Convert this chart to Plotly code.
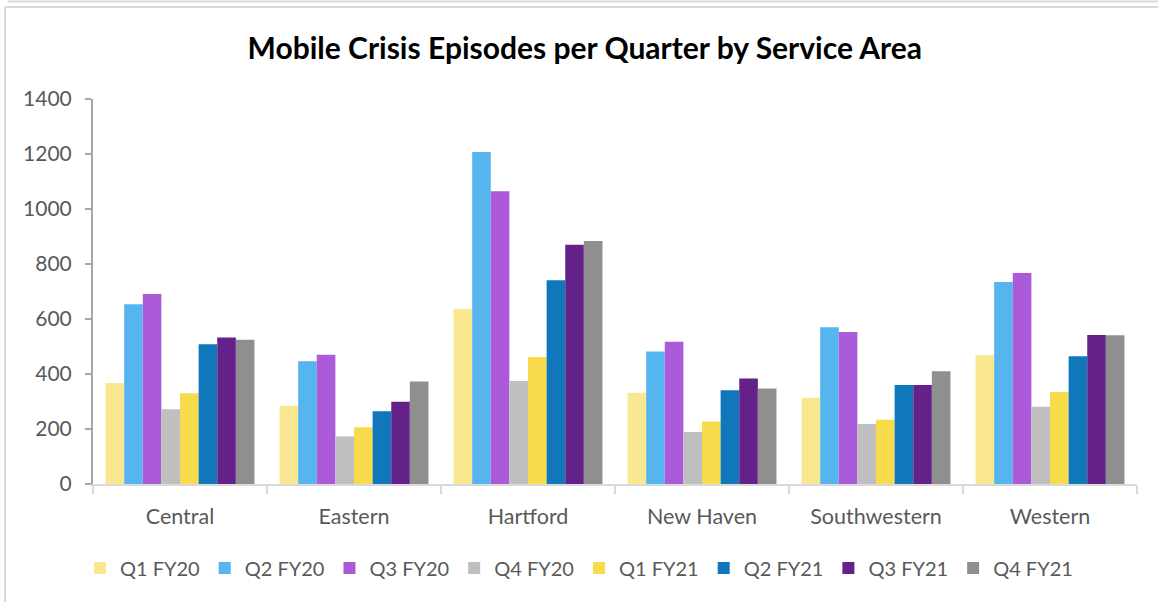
import plotly.graph_objects as go

areas = ["Central", "Eastern", "Hartford", "New Haven", "Southwestern", "Western"]
series_names = ["Q1 FY20", "Q2 FY20", "Q3 FY20", "Q4 FY20", "Q1 FY21", "Q2 FY21", "Q3 FY21", "Q4 FY21"]

q1_fy20 = [367, 285, 636, 332, 314, 469]
q2_fy20 = [654, 446, 1207, 482, 570, 735]
q3_fy20 = [691, 470, 1065, 517, 553, 767]
q4_fy20 = [272, 173, 375, 189, 218, 281]
q1_fy21 = [330, 206, 462, 227, 234, 335]
q2_fy21 = [508, 265, 741, 341, 360, 465]
q3_fy21 = [533, 299, 870, 384, 360, 542]
q4_fy21 = [525, 373, 884, 347, 410, 541]

series_values = [q1_fy20, q2_fy20, q3_fy20, q4_fy20, q1_fy21, q2_fy21, q3_fy21, q4_fy21]
colors = ["#FAE891", "#56B4EF", "#AB5BDA", "#BFBFBF", "#F7DB4A", "#1078BA", "#642189", "#8F8F8F"]

y_ticks = [0, 200, 400, 600, 800, 1000, 1200, 1400]

FONT = "Lato"
W, H = 1158, 602
L, R, T, B = 93, 21, 99, 118
pw, ph = W - L - R, H - T - B

def px_x(p):
    return (p - L) / pw

def px_y(p):
    return (H - B - p) / ph

fig = go.Figure()
for name, vals, col in zip(series_names, series_values, colors):
    fig.add_trace(go.Bar(x=areas, y=vals, name=name, marker=dict(color=col, line=dict(width=0))))

border = "#D9D9D9"
shapes = [
    dict(type="line", xref="paper", yref="paper", x0=px_x(5), x1=px_x(1170), y0=px_y(7), y1=px_y(7),
         line=dict(color=border, width=2)),
    dict(type="line", xref="paper", yref="paper", x0=px_x(5), x1=px_x(5), y0=px_y(7), y1=px_y(620),
         line=dict(color=border, width=2)),
    dict(type="line", xref="paper", yref="paper", x0=px_x(8), x1=px_x(1170), y0=px_y(1.5), y1=px_y(1.5),
         line=dict(color=border, width=2)),
]

fig.update_layout(
    width=W, height=H,
    margin=dict(l=L, r=R, t=T, b=B, autoexpand=False),
    paper_bgcolor="white", plot_bgcolor="white",
    barmode="group", bargap=0.144, bargroupgap=0,
    font=dict(family=FONT, color="#595959", size=20),
    title=dict(text="<b>Mobile Crisis Episodes per Quarter by Service Area</b>",
               x=0.505, xref="container", xanchor="center",
               y=1 - 48 / H, yref="container", yanchor="middle",
               font=dict(family=FONT, size=30, color="#000000")),
    xaxis=dict(type="category", showgrid=False, showline=True, linecolor=border, linewidth=2,
               ticks="outside", tickson="boundaries", ticklen=8, tickcolor=border, tickwidth=2,
               ticklabelstandoff=12,
               tickfont=dict(size=21.5, color="#595959"), fixedrange=True),
    yaxis=dict(range=[0, 1400], tickvals=y_ticks, showgrid=False, zeroline=False,
               showline=True, linecolor="#A6A6A6", linewidth=2,
               ticks="outside", ticklen=6, tickcolor="#A6A6A6", tickwidth=2,
               ticklabelstandoff=9,
               tickfont=dict(size=21, color="#595959"), fixedrange=True),
    legend=dict(orientation="h", x=px_x(80), xanchor="left", y=px_y(568), yanchor="middle",
                font=dict(size=20, color="#595959"), itemwidth=30, traceorder="normal",
                bgcolor="rgba(0,0,0,0)"),
    shapes=shapes,
    showlegend=True,
)

fig.write_html("out.html", config={"displayModeBar": False},
               post_script="document.body.style.margin='0px';")
